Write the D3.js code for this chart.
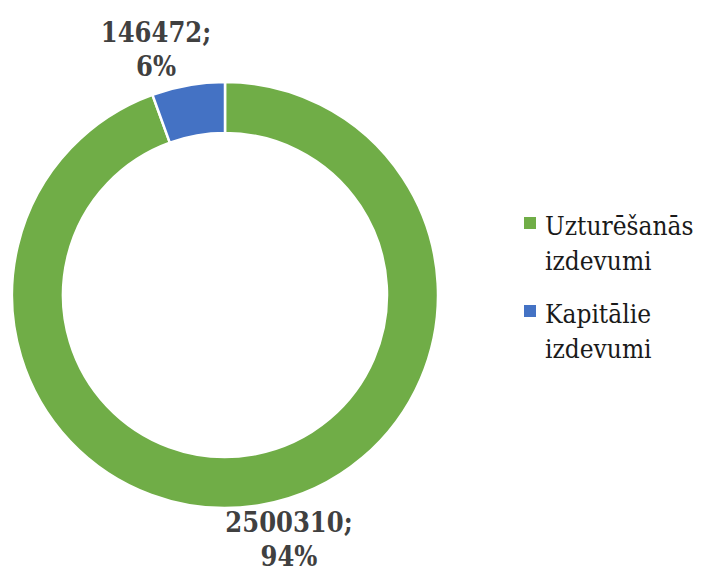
<!DOCTYPE html>
<html lang="lv">
<head>
  <meta charset="UTF-8" />
  <title>Izdevumi</title>
  <script src="https://d3js.org/d3.v7.min.js"></script>
  <style>
    body { margin: 0; background: #fff; }
    svg { display: block; }
  </style>
</head>
<body>
<svg id="chart" width="703" height="570"></svg>
<script>
const categories = ["Uzturēšanās izdevumi", "Kapitālie izdevumi"];
const legendLines = [["Uzturēšanās", "izdevumi"], ["Kapitālie", "izdevumi"]];
const values = [2500310, 146472];
const colors = ["#70AD47", "#4472C4"];

const svg = d3.select("#chart");
const cx = 225, cy = 295, outerR = 213, innerR = 162;
const serif = "'DejaVu Serif Condensed', 'DejaVu Serif', serif";

const pie = d3.pie().sort(null).value(d => d);
const arc = d3.arc().innerRadius(innerR).outerRadius(outerR);
const total = d3.sum(values);

const g = svg.append("g").attr("transform", `translate(${cx},${cy})`);

g.selectAll("path")
  .data(pie(values))
  .enter().append("path")
  .attr("d", arc)
  .attr("fill", (d, i) => colors[i])
  .attr("stroke", "#fff")
  .attr("stroke-width", 2.5);

// data labels (placed outside the ring as in the original)
const labelPos = [[289, 532], [156, 42]];
pie(values).forEach((d, i) => {
  const t = svg.append("text")
    .attr("x", labelPos[i][0])
    .attr("y", labelPos[i][1])
    .attr("text-anchor", "middle")
    .style("font-family", serif)
    .attr("font-size", 27)
    .attr("font-weight", "bold")
    .attr("fill", "#404040");
  t.append("tspan").attr("x", labelPos[i][0]).text(values[i] + ";");
  t.append("tspan").attr("x", labelPos[i][0]).attr("dy", 34)
    .text(Math.round(values[i] / total * 100) + "%");
});

// legend
const legend = svg.append("g").attr("transform", "translate(524,217)");
categories.forEach((c, i) => {
  const row = legend.append("g").attr("transform", `translate(0,${i * 88})`);
  row.append("rect").attr("width", 12).attr("height", 12).attr("fill", colors[i]);
  const t = row.append("text")
    .attr("x", 21).attr("y", 18)
    .style("font-family", serif)
    .attr("font-size", 26)
    .attr("fill", "#1a1a1a");
  legendLines[i].forEach((line, j) => {
    t.append("tspan").attr("x", 21).attr("dy", j === 0 ? 0 : 35).text(line);
  });
});
</script>
</body>
</html>
